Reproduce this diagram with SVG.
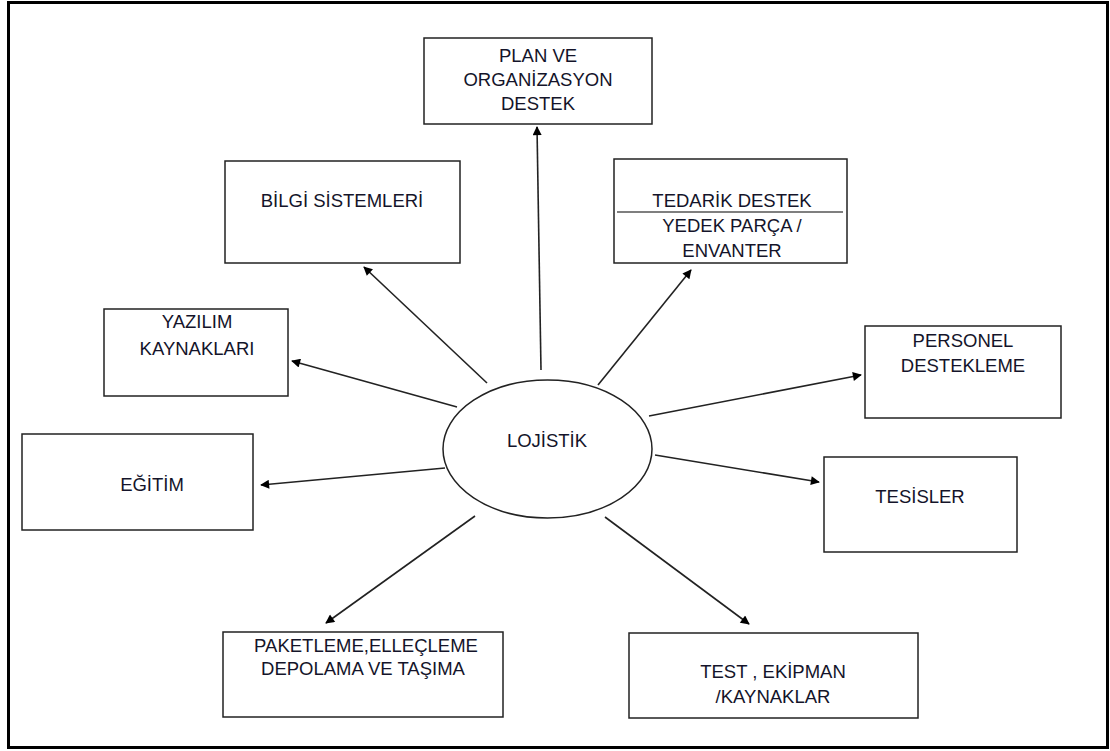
<svg xmlns="http://www.w3.org/2000/svg" width="1110" height="751" viewBox="0 0 1110 751">
  <style>
    .box { fill: #fff; stroke: #222; stroke-width: 1.5; }
    .lbl { font-family: "Liberation Sans", Arial, sans-serif; font-size: 18.5px; fill: #14142a; text-anchor: middle; }
    .conn line { stroke: #222; stroke-width: 1.6; marker-end: url(#head); }
  </style>
  <defs>
    <marker id="head" viewBox="0 0 10 10" refX="9" refY="5" markerWidth="11" markerHeight="9" markerUnits="userSpaceOnUse" orient="auto">
      <path d="M0,0 L10,5 L0,10 z" fill="#000"/>
    </marker>
  </defs>
  <rect x="0" y="0" width="1110" height="751" fill="#fff"/>
  <!-- frame -->
  <rect x="8.5" y="2.5" width="1099" height="745" fill="none" stroke="#000" stroke-width="3"/>

  <g class="conn">
    <line x1="541" y1="370" x2="537" y2="127"/>
    <line x1="487" y1="383" x2="364" y2="267"/>
    <line x1="598" y1="385" x2="691" y2="270"/>
    <line x1="457" y1="407" x2="292" y2="361"/>
    <line x1="649" y1="416" x2="861" y2="375"/>
    <line x1="445" y1="468" x2="261" y2="485"/>
    <line x1="655" y1="455" x2="819" y2="482"/>
    <line x1="475" y1="516" x2="326" y2="623"/>
    <line x1="605" y1="517" x2="749" y2="624"/>
  </g>

  <g id="lojistik">
    <ellipse class="box" cx="547.5" cy="449" rx="104.5" ry="69"/>
    <text class="lbl" x="547" y="447">LOJİSTİK</text>
  </g>

  <g id="plan">
    <rect class="box" x="424" y="38" width="228" height="86"/>
    <text class="lbl" x="538" y="62">PLAN VE</text>
    <text class="lbl" x="538" y="86">ORGANİZASYON</text>
    <text class="lbl" x="538" y="110">DESTEK</text>
  </g>

  <g id="bilgi">
    <rect class="box" x="225" y="161" width="235" height="102"/>
    <text class="lbl" x="342" y="207">BİLGİ SİSTEMLERİ</text>
  </g>

  <g id="tedarik">
    <rect class="box" x="614" y="159" width="233" height="104"/>
    <text class="lbl" x="732" y="207">TEDARİK DESTEK</text>
    <line x1="617" y1="212" x2="843" y2="212" stroke="#555" stroke-width="1.5"/>
    <text class="lbl" x="732" y="232">YEDEK PARÇA /</text>
    <text class="lbl" x="732" y="257">ENVANTER</text>
  </g>

  <g id="yazilim">
    <rect class="box" x="104" y="309" width="184" height="87"/>
    <text class="lbl" x="197" y="328">YAZILIM</text>
    <text class="lbl" x="197" y="355">KAYNAKLARI</text>
  </g>

  <g id="personel">
    <rect class="box" x="865" y="326" width="196" height="92"/>
    <text class="lbl" x="963" y="347">PERSONEL</text>
    <text class="lbl" x="963" y="372">DESTEKLEME</text>
  </g>

  <g id="egitim">
    <rect class="box" x="22" y="434" width="231" height="96"/>
    <text class="lbl" x="152" y="491">EĞİTİM</text>
  </g>

  <g id="tesisler">
    <rect class="box" x="824" y="457" width="193" height="95"/>
    <text class="lbl" x="920" y="503">TESİSLER</text>
  </g>

  <g id="paketleme">
    <rect class="box" x="223" y="632" width="280" height="85"/>
    <text class="lbl" x="366" y="652">PAKETLEME,ELLEÇLEME</text>
    <text class="lbl" x="363" y="675">DEPOLAMA VE TAŞIMA</text>
  </g>

  <g id="test">
    <rect class="box" x="629" y="633" width="289" height="85"/>
    <text class="lbl" x="773" y="678">TEST , EKİPMAN</text>
    <text class="lbl" x="773" y="703">/KAYNAKLAR</text>
  </g>
</svg>
